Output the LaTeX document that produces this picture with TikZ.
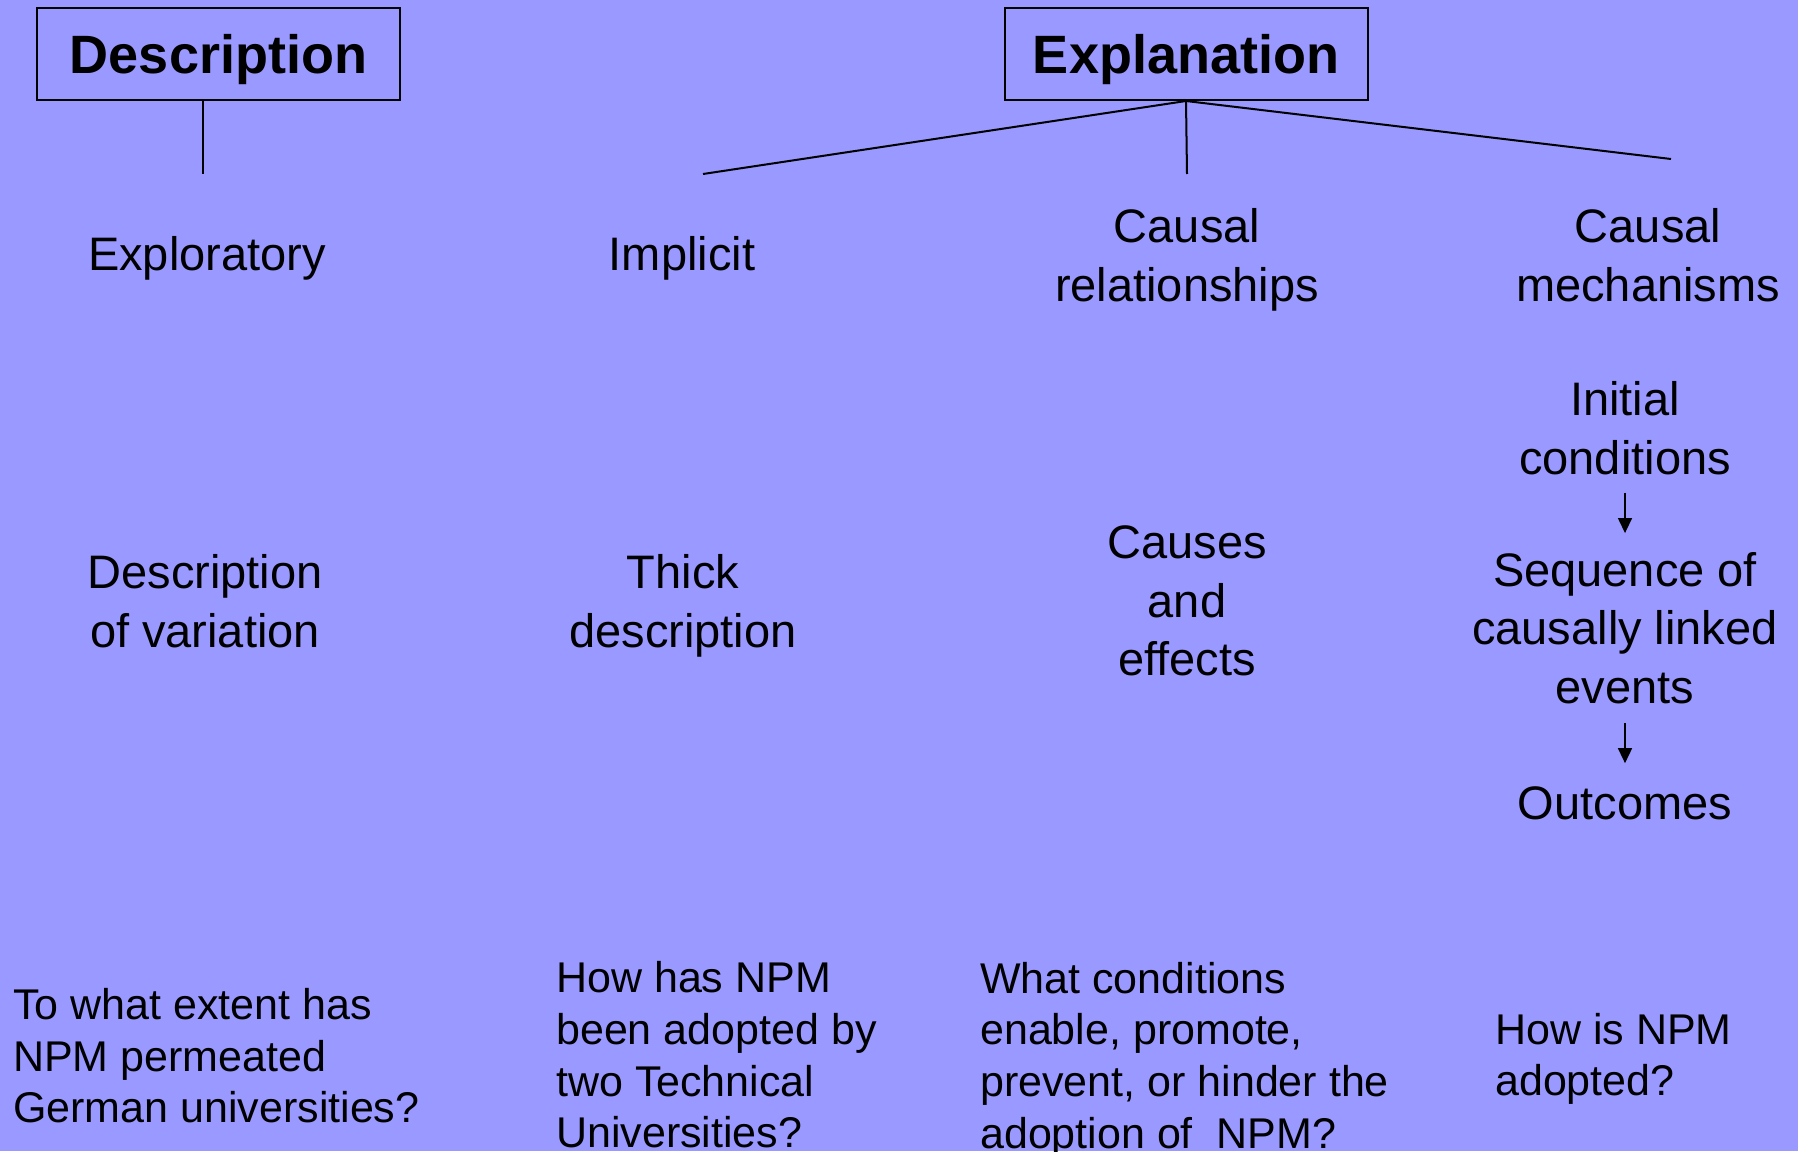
\documentclass[tikz,border=0pt]{standalone}
\usepackage{fontspec}
\setmainfont{Liberation Sans}
\usetikzlibrary{arrows.meta}
\definecolor{bgblue}{RGB}{153,153,255}

\def\lw{2pt}

\begin{document}
\begin{tikzpicture}[x=1pt,y=-1pt,
    titlebox/.style={draw,line width=\lw,minimum width=363pt,minimum height=92pt,
      inner sep=0pt,text depth=0pt,font=\fontsize{54}{60}\selectfont\bfseries},
    term/.style={align=center,inner sep=0pt,font=\fontsize{47}{58.5}\selectfont},
    quest/.style={align=left,anchor=west,inner sep=0pt,font=\fontsize{43}{51.6}\selectfont},
    link/.style={line width=\lw},
    flow/.style={line width=1.5pt,-{Triangle[width=14pt,length=15pt]}}]
        % background
        \fill[bgblue] (0,0) rectangle (1798,1151);
        \useasboundingbox (0,0) rectangle (1798,1151);
        % headings
        \node[titlebox] (desc) at (218.5,54) {Description};
        \node[titlebox] (expl) at (1186,54) {Explanation};
        % kinds of research
        \node[term] (explo) at (207,258.5) {Exploratory};
        \node[term] (impl) at (682,258.5) {Implicit};
        \node[term] (rel) at (1187,260) {Causal\\relationships};
        \node[term] (mech) at (1648,255) {Causal\\mechanisms};
        % tree lines
        \coordinate (descEnd) at (203,174);
        \coordinate (implEnd) at (703,174);
        \coordinate (relEnd) at (1187,174);
        \coordinate (mechEnd) at (1671,159);
        \draw[link] (desc.south -| descEnd) -- (descEnd);
        \draw[link] (expl.south) -- (implEnd);
        \draw[link] (expl.south) -- (relEnd);
        \draw[link] (expl.south) -- (mechEnd);
        % what is studied
        \node[term] (var) at (205,601) {Description\\of variation};
        \node[term] (thick) at (683,606) {Thick\\description};
        \node[term] (cause) at (1187,601) {Causes\\and\\effects};
        % mechanism chain
        \node[term] (init) at (1625,428) {Initial\\conditions};
        \node[term] (seq) at (1625,628) {Sequence of\\causally linked\\events};
        \node[term] (out) at (1625,803) {Outcomes};
        \draw[flow,shorten <=18pt,shorten >=19pt] (init) -- (seq);
        \draw[flow,shorten <=19pt,shorten >=23pt] (seq) -- (out);
        % research questions
        \node[quest] (qvar) at (13,1056) {To what extent has\\NPM permeated\\German universities?};
        \node[quest] (qthick) at (556,1055) {How has NPM\\been adopted by\\two Technical\\Universities?};
        \node[quest] (qcause) at (980,1059.5) {What conditions\\enable, promote,\\prevent, or hinder the\\adoption of\ \ NPM?};
        \node[quest] (qmech) at (1495,1059) {How is NPM\\adopted?};
    \end{tikzpicture}
\end{document}
